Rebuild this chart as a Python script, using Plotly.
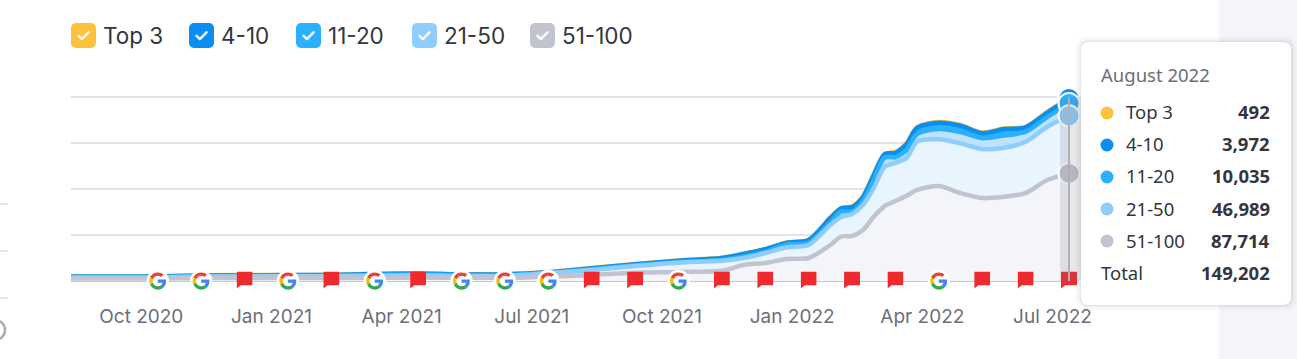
import base64
import plotly.graph_objects as go

W, H = 1297, 359

months = ["Sep 2020","Oct 2020","Nov 2020","Dec 2020","Jan 2021","Feb 2021","Mar 2021","Apr 2021",
          "May 2021","Jun 2021","Jul 2021","Aug 2021","Sep 2021","Oct 2021","Nov 2021","Dec 2021",
          "Jan 2022","Feb 2022","Mar 2022","Apr 2022","May 2022","Jun 2022","Jul 2022","Aug 2022"]
# curve readings: one per month, plus finer readings from Dec 2021 on, where the curve has shoulders
sample_pos = [0,1,2,3,4,5,6,7,8,9,10,11,12,13,14,15,15.5,16,16.5,17,17.5,17.75,18,18.25,18.5,18.75,19,19.25,19.5,20,20.5,21,21.5,22,22.5,23]
v51_100 = [2040,2040,2040,2450,2450,2450,2450,2610,2770,2610,2610,3500,4890,6760,7340,8390,
           13040,14670,17930,18750,29350,36270,36680,41570,52420,61100,65200,69300,74200,77400,71700,67600,68700,71700,82300,87714]
v21_50  = [815,815,815,1220,1300,1390,1390,1630,1960,1470,1470,2770,4080,5460,7580,8150,
           5710,8150,9540,10600,16300,15900,17930,20380,23400,32000,31200,30700,39400,38100,40500,39900,39900,41800,43450,46989]
v11_20  = [410,410,410,410,490,490,570,650,650,650,650,490,570,570,570,570,
           1220,1060,2280,1870,2040,4480,1870,3260,6520,7500,4650,6765,6280,8400,9210,8960,9950,8150,7900,10035]
v4_10   = [410,410,490,490,490,490,490,815,815,650,650,330,815,815,1060,1630,
           2040,1960,1470,2200,3670,2610,3830,3260,4080,2685,3500,4645,4890,5130,5140,4080,5300,3590,3670,3972]
top_3   = [160,160,160,160,160,160,160,160,160,160,160,160,160,160,160,160,
           160,240,240,240,250,240,330,300,400,400,570,500,600,650,600,490,490,490,490,492]

series_names = ["Top 3", "4-10", "11-20", "21-50", "51-100"]
series_values = [top_3, v4_10, v11_20, v21_50, v51_100]
colors = ["#ffc13d", "#0a8ef2", "#2bb0fe", "#8fcdfc", "#c1c4cf"]
fills = ["#ffc13d", "#2bb0fe", "#bfe3fd", "#e8f4fe", "#f4f5f8"]

tick_labels = ["Oct 2020","Jan 2021","Apr 2021","Jul 2021","Oct 2021","Jan 2022","Apr 2022","Jul 2022"]
google_updates = ["Nov 2020","Dec 2020","Feb 2021","Apr 2021","Jun 2021","Jul 2021","Aug 2021","Nov 2021","May 2022"]
notes = ["Jan 2021","Mar 2021","May 2021","Sep 2021","Oct 2021","Dec 2021","Jan 2022","Feb 2022","Mar 2022","Apr 2022","Jun 2022","Jul 2022","Aug 2022"]

X0, X1, Y0, Y1 = 71, 1069, 281, 97
def px(x): return x / W
def py(y): return 1 - y / H
last = sample_pos[-1]
def month_paper(m): return px(X0 + (X1 - X0) * months.index(m) / last)
def datauri(svg): return "data:image/svg+xml;base64," + base64.b64encode(svg.encode()).decode()

G_SVG = ('<svg xmlns="http://www.w3.org/2000/svg" viewBox="-8 -8 64 64"><circle cx="24" cy="24" r="31" fill="#fff"/>'
 '<path fill="#EA4335" d="M24 9.5c3.54 0 6.71 1.22 9.21 3.6l6.85-6.85C35.9 2.38 30.47 0 24 0 14.62 0 6.51 5.38 2.56 13.22l7.98 6.19C12.43 13.72 17.74 9.5 24 9.5z"/>'
 '<path fill="#4285F4" d="M46.98 24.55c0-1.57-.15-3.09-.38-4.55H24v9.02h12.94c-.58 2.96-2.26 5.48-4.78 7.18l7.73 6c4.51-4.18 7.09-10.36 7.09-17.65z"/>'
 '<path fill="#FBBC05" d="M10.53 28.59c-.48-1.45-.76-2.99-.76-4.59s.27-3.14.76-4.59l-7.98-6.19C.92 16.46 0 20.12 0 24c0 3.88.92 7.54 2.56 10.78l7.97-6.19z"/>'
 '<path fill="#34A853" d="M24 48c6.48 0 11.93-2.13 15.89-5.81l-7.73-6c-2.15 1.45-4.92 2.3-8.16 2.3-6.26 0-11.57-4.22-13.47-9.91l-7.98 6.19C6.51 42.62 14.62 48 24 48z"/></svg>')
FLAG_SVG = ('<svg xmlns="http://www.w3.org/2000/svg" viewBox="0 0 16 17"><path fill="#ee2a2e" '
 'd="M1 0H15.2a.8.8 0 0 1 .8.8V13a.8.8 0 0 1-.8.8H4.2L0 17V1a1 1 0 0 1 1-1z"/></svg>')
def check_svg(c):
    return datauri(f'<svg xmlns="http://www.w3.org/2000/svg" viewBox="0 0 25 25"><rect width="25" height="25" rx="5" fill="{c}"/>'
                   '<path d="M7.5 12.8l3.4 3.3 6.6-6.8" fill="none" stroke="#fff" stroke-opacity=".9" stroke-width="2.6" stroke-linecap="round" stroke-linejoin="round"/></svg>')

# cumulative tops, bottom series = 51-100
tops = []
running = [0] * len(sample_pos)
for vals in reversed(series_values):
    running = [a + b for a, b in zip(running, vals)]
    tops.append(running)
tops = tops[::-1]   # same order as series_names

fig = go.Figure()
for name, top, c, f in zip(series_names, tops, colors, fills):
    fig.add_trace(go.Scatter(x=sample_pos, y=top, name=name, mode="lines", fill="tozeroy",
                             line=dict(color=c, width=4.5, shape="spline", smoothing=0.8),
                             fillcolor=f, hoverinfo="skip", showlegend=False))

fig.add_trace(go.Scatter(x=[last]*5, y=[t[-1] for t in tops], mode="markers", cliponaxis=False, showlegend=False, hoverinfo="skip",
                         marker=dict(size=21, color=colors, line=dict(color="#fff", width=2))))

images, annotations = [], []
for m in google_updates:
    images.append(dict(source=datauri(G_SVG), xref="paper", yref="paper", x=month_paper(m), y=py(281),
                       sizex=23/W, sizey=23/H, xanchor="center", yanchor="middle", layer="above"))
for m in notes:
    images.append(dict(source=datauri(FLAG_SVG), xref="paper", yref="paper", x=month_paper(m), y=py(280),
                       sizex=16/W, sizey=17/H, xanchor="center", yanchor="middle", layer="above"))

legend_x = [71, 189, 296, 412, 530]
for name, c, lx in zip(series_names, colors, legend_x):
    images.append(dict(source=check_svg(c), xref="paper", yref="paper", x=px(lx), y=py(23), sizex=25/W, sizey=25/H,
                       xanchor="left", yanchor="top", layer="above"))
    annotations.append(dict(text=name, xref="paper", yref="paper", x=px(lx+30), y=py(35.5), xanchor="left", yanchor="middle",
                            showarrow=False, font=dict(family="Inter", size=22.5, color="#333640")))

def rrect(x0, y0, x1, y1, r):
    a, b, c, d = px(x0), px(x1), py(y0), py(y1)
    rx, ry = r / W, r / H
    return (f"M{a+rx},{c} L{b-rx},{c} Q{b},{c} {b},{c-ry} L{b},{d+ry} Q{b},{d} {b-rx},{d} "
            f"L{a+rx},{d} Q{a},{d} {a},{d+ry} L{a},{c-ry} Q{a},{c} {a+rx},{c} Z")

shapes = [
    dict(type="rect", xref="paper", yref="paper", x0=px(1219), x1=1, y0=0, y1=1, fillcolor="#f4f5f9", line_width=0, layer="below"),
    dict(type="circle", xref="paper", yref="paper", x0=px(-15), x1=px(5), y0=py(340), y1=py(320),
         line=dict(color="#a9adab", width=2.5), layer="below"),
    dict(type="rect", xref="paper", yref="paper", x0=px(1060), x1=px(1081), y0=py(281), y1=py(97),
         fillcolor="rgba(110,115,130,0.16)", line_width=0, layer="above"),
    dict(type="line", xref="paper", yref="paper", x0=px(1069), x1=px(1069), y0=py(281), y1=py(97),
         line=dict(color="#aeb1bc", width=2), layer="above"),
]
for y in [204, 251, 298]:
    shapes.append(dict(type="line", xref="paper", yref="paper", x0=0, x1=px(8), y0=py(y), y1=py(y),
                       line=dict(color="#dcdde1", width=1.5), layer="below"))
for g, al in [(6, 0.02), (4, 0.025), (2, 0.035), (1, 0.04)]:
    shapes.append(dict(type="path", xref="paper", yref="paper", path=rrect(1081-g, 42-g, 1291+g, 305+g, 8+g),
                       fillcolor=f"rgba(30,40,70,{al})", line_width=0, layer="above"))
shapes.append(dict(type="path", xref="paper", yref="paper", path=rrect(1081, 42, 1291, 305, 8),
                   fillcolor="#ffffff", line_width=0, layer="above"))

TIP = "Noto Sans"
def tip(text, x, y, anchor="left", size=18.5, color="#333640", bold=False):
    shift = -2 if anchor == "left" else 2
    annotations.append(dict(text=f"<b>{text}</b>" if bold else text, xref="paper", yref="paper", x=px(x + shift), y=py(y - 1),
                            xanchor=anchor, yanchor="middle", showarrow=False,
                            font=dict(family=TIP, size=size, color=color)))
tip(months[-1].replace("Aug", "August"), 1101, 75, color="#6c6e79")
row_y = [113, 145, 177, 209, 241]
for name, vals, c, y in zip(series_names, series_values, colors, row_y):
    shapes.append(dict(type="circle", xref="paper", yref="paper", x0=px(1100.5), x1=px(1113.5), y0=py(y+6.5), y1=py(y-6.5),
                       fillcolor=c, line_width=0, layer="above"))
    tip(name, 1126, y)
    tip(f"{vals[-1]:,}", 1270, y, anchor="right", bold=True)
tip("Total", 1101, 273)
tip(f"{sum(v[-1] for v in series_values):,}", 1270, 273, anchor="right", bold=True)

YMAX = 156000
fig.update_layout(
    width=W, height=H, margin=dict(l=0, r=0, t=0, b=0, autoexpand=False), paper_bgcolor="#ffffff", plot_bgcolor="rgba(0,0,0,0)",
    showlegend=False, shapes=shapes, images=images, annotations=annotations, hovermode=False,
    xaxis=dict(domain=[px(X0), px(X1)], range=[0, last], tickmode="array",
               tickvals=[months.index(t) + 0.62 for t in tick_labels], ticktext=tick_labels,
               showgrid=False, zeroline=False, showline=False, ticks="outside", ticklen=18, tickcolor="rgba(0,0,0,0)",
               tickfont=dict(family="Inter", size=19, color="#6c6e79")),
    yaxis=dict(domain=[py(Y0), py(Y0 - (Y0 - Y1) * YMAX / 150000)], range=[0, YMAX], tickmode="array",
               tickvals=[37500, 75000, 112500, 150000], showticklabels=False,
               showgrid=True, gridcolor="#e3e4e8", gridwidth=1.5, zeroline=True, zerolinecolor="#c6c8ce", zerolinewidth=1.5),
)
fig.write_html("out.html", post_script="document.body.style.margin='0';document.body.style.overflow='hidden';",
               config={"displayModeBar": False})
